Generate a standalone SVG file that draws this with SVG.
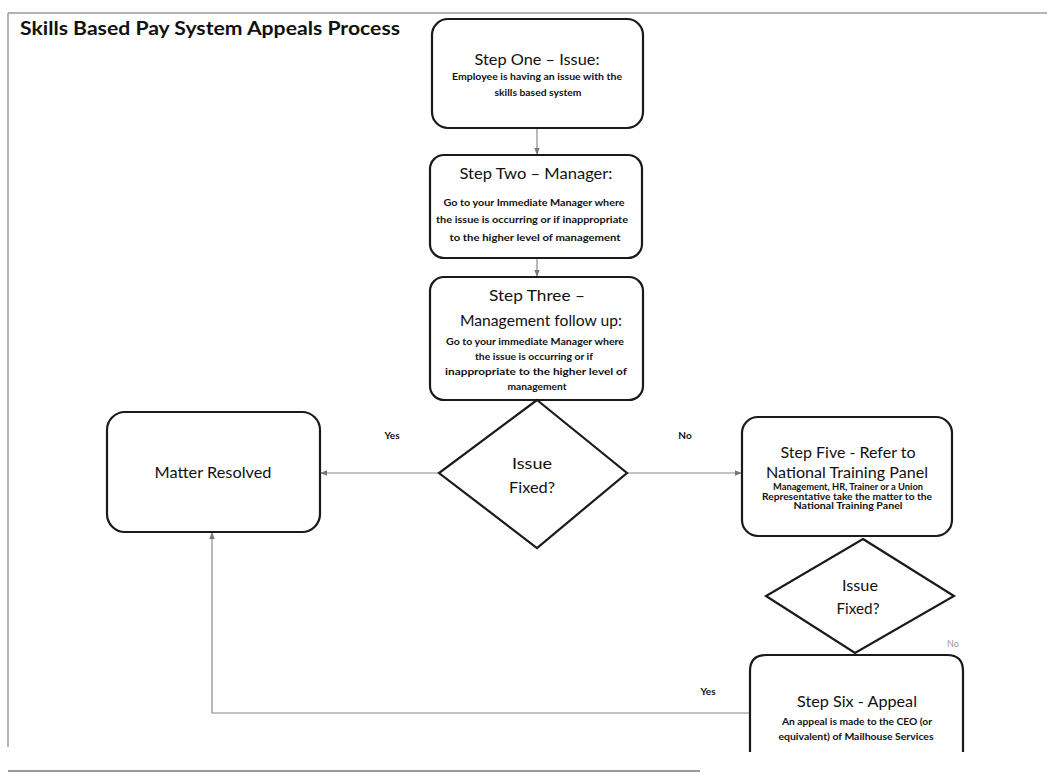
<svg xmlns="http://www.w3.org/2000/svg" width="1047" height="775" viewBox="0 0 1047 775">
<defs>
<style>
.box{fill:#fff;stroke:#1a1a1a;stroke-width:2.2}
.con{fill:none;stroke:#8a8a8a;stroke-width:1.2}
.frame{fill:none;stroke:#9a9a9a;stroke-width:1.5}
text{font-family:Lato,"Open Sans","Liberation Sans",sans-serif;fill:#111;text-anchor:middle}
.h{font-size:16px}
.b{font-size:9px;font-weight:bold}
.lbl{font-size:10px;font-weight:bold}
.ttl{font-size:18px;font-weight:bold;text-anchor:start}
</style>
<marker id="arr" viewBox="0 0 10 10" refX="9" refY="5" markerWidth="6" markerHeight="6" orient="auto">
<path d="M0,1 L10,5 L0,9 Z" fill="#777"/>
</marker>
</defs>
<rect width="1047" height="775" fill="#fff"/>
<g id="frame">
<line class="frame" x1="8" y1="13" x2="1047" y2="13"/>
<line class="frame" x1="8" y1="13" x2="8" y2="747"/>
<line x1="8" y1="771" x2="700" y2="771" stroke="#777" stroke-width="1.5"/>
</g>
<text class="ttl" x="20" y="35" textLength="380" lengthAdjust="spacingAndGlyphs">Skills Based Pay System Appeals Process</text>
<g id="connectors">
<line class="con" x1="537" y1="128" x2="537" y2="154" marker-end="url(#arr)"/>
<line class="con" x1="537" y1="258" x2="537" y2="276" marker-end="url(#arr)"/>
<line class="con" x1="439" y1="473" x2="321" y2="473" marker-end="url(#arr)"/>
<line class="con" x1="627" y1="473" x2="741" y2="473" marker-end="url(#arr)"/>
<polyline class="con" points="750,713 212,713 212,533" marker-end="url(#arr)"/>
<text class="lbl" x="392" y="439">Yes</text>
<text class="lbl" x="685" y="439">No</text>
<text class="lbl" x="708" y="695">Yes</text>
<text x="953" y="647" style="font-size:9px;fill:#999">No</text>
</g>
<g id="step1">
<rect class="box" x="432" y="19" width="211" height="109" rx="16"/>
<text class="h" x="537" y="65" textLength="125" lengthAdjust="spacingAndGlyphs">Step One – Issue:</text>
<text class="b" x="537" y="80" textLength="170" lengthAdjust="spacingAndGlyphs">Employee is having an issue with the</text>
<text class="b" x="538" y="96" textLength="87" lengthAdjust="spacingAndGlyphs">skills based system</text>
</g>
<g id="step2">
<rect class="box" x="430" y="155" width="212" height="103" rx="14"/>
<text class="h" x="536" y="179" textLength="153" lengthAdjust="spacingAndGlyphs">Step Two – Manager:</text>
<text class="b" x="534" y="206" textLength="181" lengthAdjust="spacingAndGlyphs">Go to your Immediate Manager where</text>
<text class="b" x="532" y="223" textLength="192" lengthAdjust="spacingAndGlyphs">the issue is occurring or if inappropriate</text>
<text class="b" x="535" y="241" textLength="171" lengthAdjust="spacingAndGlyphs">to the higher level of management</text>
</g>
<g id="step3">
<rect class="box" x="430" y="277" width="213" height="123" rx="14"/>
<text class="h" x="537" y="301" textLength="96" lengthAdjust="spacingAndGlyphs">Step Three –</text>
<text class="h" x="541" y="326" textLength="162" lengthAdjust="spacingAndGlyphs">Management follow up:</text>
<text class="b" x="535" y="345" textLength="178" lengthAdjust="spacingAndGlyphs">Go to your immediate Manager where</text>
<text class="b" x="534" y="360" textLength="118" lengthAdjust="spacingAndGlyphs">the issue is occurring or if</text>
<text class="b" x="536" y="375" textLength="182" lengthAdjust="spacingAndGlyphs">inappropriate to the higher level of</text>
<text class="b" x="537" y="390" textLength="59" lengthAdjust="spacingAndGlyphs">management</text>
</g>
<g id="decision1">
<polygon class="box" points="537,400 627,473 537,548 439,473"/>
<text class="h" x="532" y="469" textLength="40" lengthAdjust="spacingAndGlyphs">Issue</text>
<text class="h" x="532" y="493" textLength="46" lengthAdjust="spacingAndGlyphs">Fixed?</text>
</g>
<g id="resolved">
<rect class="box" x="107" y="412" width="213" height="120" rx="18"/>
<text class="h" x="213" y="478" textLength="117" lengthAdjust="spacingAndGlyphs">Matter Resolved</text>
</g>
<g id="step5">
<rect class="box" x="742" y="417" width="210" height="119" rx="16"/>
<text class="h" x="848" y="458" textLength="135" lengthAdjust="spacingAndGlyphs">Step Five - Refer to</text>
<text class="h" x="847" y="478" textLength="162" lengthAdjust="spacingAndGlyphs">National Training Panel</text>
<text class="b" x="848" y="490" textLength="150" lengthAdjust="spacingAndGlyphs">Management, HR, Trainer or a Union</text>
<text class="b" x="847" y="500" textLength="170" lengthAdjust="spacingAndGlyphs">Representative take the matter to the</text>
<text class="b" x="848" y="509" textLength="109" lengthAdjust="spacingAndGlyphs">National Training Panel</text>
</g>
<g id="decision2">
<polygon class="box" points="863,539 954,596 855,653 766,596"/>
<text class="h" x="860" y="591" textLength="36" lengthAdjust="spacingAndGlyphs">Issue</text>
<text class="h" x="858" y="614" textLength="43" lengthAdjust="spacingAndGlyphs">Fixed?</text>
</g>
<g id="step6">
<path class="box" d="M750,752 V671 Q750,655 766,655 H947 Q963,655 963,671 V752"/>
<text class="h" x="857" y="707" textLength="120" lengthAdjust="spacingAndGlyphs">Step Six - Appeal</text>
<text class="b" x="857" y="725" textLength="150" lengthAdjust="spacingAndGlyphs">An appeal is made to the CEO (or</text>
<text class="b" x="856" y="740" textLength="155" lengthAdjust="spacingAndGlyphs">equivalent) of Mailhouse Services</text>
</g>
</svg>
